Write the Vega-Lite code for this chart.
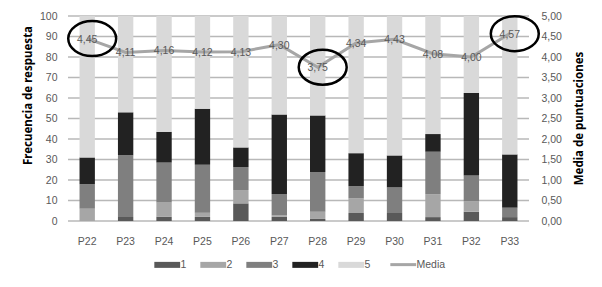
{
  "$schema": "https://vega.github.io/schema/vega-lite/v6.json",
  "width": 461,
  "height": 205,
  "autosize": {"type": "none"},
  "padding": {"left": 68, "top": 16, "right": 73, "bottom": 66},
  "background": "white",
  "config": {
    "locale": {"number": {"decimal": ",", "thousands": ".", "grouping": [3], "currency": ["", " €"]}},
    "font": "Liberation Sans",
    "view": {"stroke": null},
    "axis": {"labelColor": "#595959", "labelFont": "Liberation Sans", "labelFontSize": 10.5, "titleFont": "Noto Sans", "titleFontSize": 11.5, "titleFontWeight": "bold", "titleColor": "#000000", "domain": false, "ticks": false, "labelOverlap": false, "grid": false}
  },
  "datasets": {
    "grid": [{"g": 10}, {"g": 20}, {"g": 30}, {"g": 40}, {"g": 50}, {"g": 60}, {"g": 70}, {"g": 80}, {"g": 90}, {"g": 100}, {"g": 0}],
    "freq": [
      {"p": "P22", "cat": "1", "v": 0}, {"p": "P22", "cat": "2", "v": 6}, {"p": "P22", "cat": "3", "v": 12}, {"p": "P22", "cat": "4", "v": 13}, {"p": "P22", "cat": "5", "v": 69},
      {"p": "P23", "cat": "1", "v": 2}, {"p": "P23", "cat": "2", "v": 0}, {"p": "P23", "cat": "3", "v": 30}, {"p": "P23", "cat": "4", "v": 21}, {"p": "P23", "cat": "5", "v": 47},
      {"p": "P24", "cat": "1", "v": 2}, {"p": "P24", "cat": "2", "v": 7}, {"p": "P24", "cat": "3", "v": 19.5}, {"p": "P24", "cat": "4", "v": 15}, {"p": "P24", "cat": "5", "v": 56.5},
      {"p": "P25", "cat": "1", "v": 2}, {"p": "P25", "cat": "2", "v": 2}, {"p": "P25", "cat": "3", "v": 23.4}, {"p": "P25", "cat": "4", "v": 27.4}, {"p": "P25", "cat": "5", "v": 45.2},
      {"p": "P26", "cat": "1", "v": 8.6}, {"p": "P26", "cat": "2", "v": 6.5}, {"p": "P26", "cat": "3", "v": 11.2}, {"p": "P26", "cat": "4", "v": 9.6}, {"p": "P26", "cat": "5", "v": 64.1},
      {"p": "P27", "cat": "1", "v": 2}, {"p": "P27", "cat": "2", "v": 0.7}, {"p": "P27", "cat": "3", "v": 10.5}, {"p": "P27", "cat": "4", "v": 38.8}, {"p": "P27", "cat": "5", "v": 48},
      {"p": "P28", "cat": "1", "v": 1}, {"p": "P28", "cat": "2", "v": 3.5}, {"p": "P28", "cat": "3", "v": 19.4}, {"p": "P28", "cat": "4", "v": 27.6}, {"p": "P28", "cat": "5", "v": 48.5},
      {"p": "P29", "cat": "1", "v": 3.9}, {"p": "P29", "cat": "2", "v": 7.1}, {"p": "P29", "cat": "3", "v": 6}, {"p": "P29", "cat": "4", "v": 16.1}, {"p": "P29", "cat": "5", "v": 66.9},
      {"p": "P30", "cat": "1", "v": 3.9}, {"p": "P30", "cat": "2", "v": 0}, {"p": "P30", "cat": "3", "v": 12.5}, {"p": "P30", "cat": "4", "v": 15.6}, {"p": "P30", "cat": "5", "v": 68},
      {"p": "P31", "cat": "1", "v": 1.9}, {"p": "P31", "cat": "2", "v": 11.2}, {"p": "P31", "cat": "3", "v": 20.7}, {"p": "P31", "cat": "4", "v": 8.6}, {"p": "P31", "cat": "5", "v": 57.6},
      {"p": "P32", "cat": "1", "v": 4.5}, {"p": "P32", "cat": "2", "v": 5.2}, {"p": "P32", "cat": "3", "v": 12.5}, {"p": "P32", "cat": "4", "v": 40.3}, {"p": "P32", "cat": "5", "v": 37.5},
      {"p": "P33", "cat": "1", "v": 1.9}, {"p": "P33", "cat": "2", "v": 0}, {"p": "P33", "cat": "3", "v": 4.6}, {"p": "P33", "cat": "4", "v": 26}, {"p": "P33", "cat": "5", "v": 67.5}
    ],
    "media": [
      {"p": "P22", "m": 4.45, "s": "Media", "hl": true},
      {"p": "P23", "m": 4.11, "s": "Media", "hl": false},
      {"p": "P24", "m": 4.16, "s": "Media", "hl": false},
      {"p": "P25", "m": 4.12, "s": "Media", "hl": false},
      {"p": "P26", "m": 4.13, "s": "Media", "hl": false},
      {"p": "P27", "m": 4.30, "s": "Media", "hl": false},
      {"p": "P28", "m": 3.75, "s": "Media", "hl": true},
      {"p": "P29", "m": 4.34, "s": "Media", "hl": false},
      {"p": "P30", "m": 4.43, "s": "Media", "hl": false},
      {"p": "P31", "m": 4.08, "s": "Media", "hl": false},
      {"p": "P32", "m": 4.00, "s": "Media", "hl": false},
      {"p": "P33", "m": 4.57, "s": "Media", "hl": true}
    ]
  },
  "layer": [
    {
      "layer": [
        {
          "data": {"name": "grid"},
          "mark": {"type": "rule", "color": "#b8b8b8", "strokeWidth": 1.5, "opacity": 1},
          "encoding": {
            "y": {"field": "g", "type": "quantitative", "scale": {"domain": [0, 100]}, "axis": {"title": "Frecuencia de respuesta", "values": [0,10,20,30,40,50,60,70,80,90,100], "labelPadding": 11, "titleBaseline": "middle", "titleX": -40, "titleY": 79, "titleAngle": -90}}
          }
        },
        {
          "data": {"name": "freq"},
          "mark": {"type": "bar"},
          "encoding": {
            "x": {"field": "p", "type": "nominal", "sort": null, "scale": {"paddingInner": 0.6, "paddingOuter": 0.3}, "axis": {"title": null, "labelAngle": 0, "labelPadding": 15}},
            "y": {"field": "v", "type": "quantitative", "stack": "zero", "scale": {"domain": [0, 100]}, "axis": {"title": "Frecuencia de respuesta", "values": [0,10,20,30,40,50,60,70,80,90,100], "labelPadding": 11, "titleBaseline": "middle", "titleX": -40, "titleY": 79, "titleAngle": -90}},
            "color": {
              "field": "cat", "type": "nominal",
              "scale": {"domain": ["1", "2", "3", "4", "5", "Media"], "range": ["#595959", "#a6a6a6", "#7f7f7f", "#222222", "#d9d9d9", "#a6a6a6"]},
              "legend": {
                "orient": "none", "legendX": 94, "legendY": 243, "direction": "horizontal", "title": null,
                "labelColor": "#595959", "labelFont": "Liberation Sans", "labelFontSize": 10.5,
                "symbolSize": 278, "labelOffset": 8, "columnPadding": 13,
                "encode": {"symbols": {"update": {
                  "shape": {"signal": "datum.value === 'Media' ? 'M-1.55,0H1.55' : 'M-1.55,-0.36H1.55V0.36H-1.55Z'"},
                  "strokeWidth": {"signal": "datum.value === 'Media' ? 3 : 0"},
                  "stroke": {"signal": "scale('color', datum.value)"},
                  "fill": {"signal": "datum.value === 'Media' ? 'transparent' : scale('color', datum.value)"},
                  "opacity": {"value": 1}
                }}}
              }
            },
            "order": {"field": "cat", "type": "ordinal"}
          }
        }
      ]
    },
    {
      "data": {"name": "media"},
      "encoding": {
        "x": {"field": "p", "type": "nominal", "sort": null},
        "y": {"field": "m", "type": "quantitative", "scale": {"domain": [0, 5]}, "axis": {"orient": "right", "title": "Media de puntuaciones", "format": ".2f", "values": [0,0.5,1,1.5,2,2.5,3,3.5,4,4.5,5], "labelPadding": 12, "titleAngle": -90, "titleBaseline": "middle", "titleX": 50, "titleY": 102}}
      },
      "layer": [
        {
          "mark": {"type": "line", "strokeWidth": 3, "color": "#a6a6a6"},
          "encoding": {
            "color": {"field": "s", "type": "nominal"}
          }
        },
        {
          "mark": {"type": "text", "color": "#595959", "font": "Liberation Sans", "fontSize": 10.5, "dy": 1},
          "encoding": {
            "text": {"field": "m", "type": "quantitative", "format": ".2f"}
          }
        },
        {
          "transform": [{"filter": "datum.hl"}],
          "mark": {"type": "point", "shape": "M-1.37,0A1.37,1,0,1,1,1.37,0A1.37,1,0,1,1,-1.37,0Z", "size": 1225, "stroke": "#000000", "strokeWidth": 2.5, "filled": false, "opacity": 1, "xOffset": 5},
          "encoding": {}
        }
      ]
    }
  ],
  "resolve": {"scale": {"y": "independent"}}
}
